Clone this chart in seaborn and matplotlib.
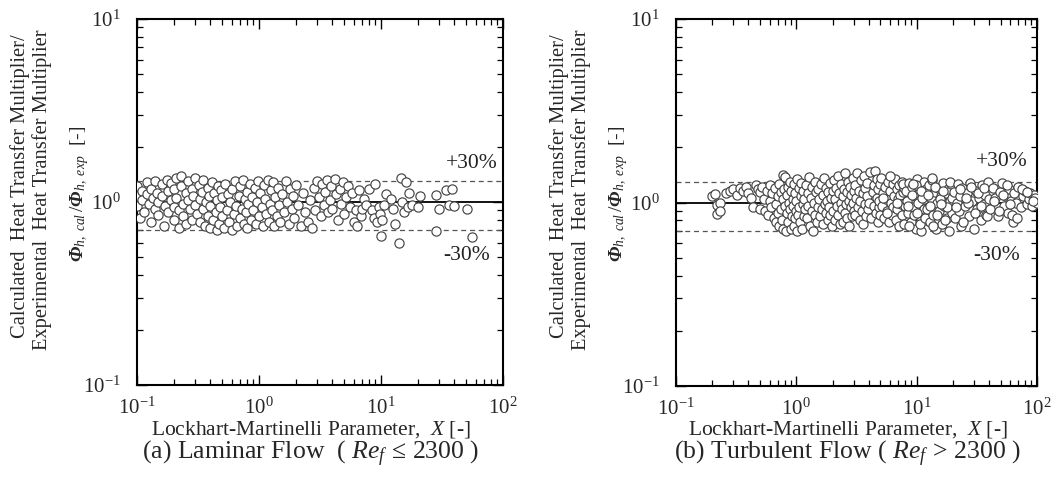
import numpy as np
import pandas as pd
import matplotlib
matplotlib.use("Agg")
import matplotlib.pyplot as plt
import seaborn as sns
from matplotlib.ticker import LogLocator, NullFormatter

# ---------------- data ----------------
lam_x = [
    0.10, 0.10, 0.10, 0.105, 0.11, 0.11, 0.115, 0.12, 0.12, 0.125, 0.13, 0.13, 0.135, 0.14, 0.14,
    0.145, 0.15, 0.15, 0.16, 0.16, 0.165, 0.17, 0.175, 0.18, 0.18, 0.19, 0.19, 0.20, 0.20, 0.20,
    0.21, 0.21, 0.22, 0.22, 0.23, 0.23, 0.24, 0.24, 0.25, 0.25, 0.26, 0.26, 0.27, 0.28, 0.28, 0.29,
    0.30, 0.30, 0.31, 0.32, 0.33, 0.33, 0.34, 0.35, 0.35, 0.36, 0.37, 0.38, 0.38, 0.39, 0.40, 0.40,
    0.41, 0.42, 0.43, 0.44, 0.45, 0.45, 0.46, 0.47, 0.48, 0.49, 0.50, 0.50,
    0.52, 0.53, 0.55, 0.56, 0.57, 0.58, 0.60, 0.60, 0.62, 0.63, 0.65, 0.66, 0.68, 0.70, 0.70, 0.72,
    0.74, 0.75, 0.77, 0.78, 0.80, 0.80, 0.82, 0.84, 0.86, 0.88, 0.90, 0.92, 0.94, 0.96, 0.98, 1.00,
    1.02, 1.05, 1.08, 1.10, 1.12, 1.15, 1.18, 1.20, 1.22, 1.25, 1.28, 1.30, 1.33, 1.36, 1.40, 1.43,
    1.46, 1.50, 1.55, 1.60, 1.65, 1.70, 1.75, 1.80, 1.85, 1.90, 1.95, 2.00, 2.10, 2.20, 2.30, 2.40,
    2.50, 2.60, 2.70, 2.80, 2.90, 3.00,
    3.1, 3.2, 3.3, 3.4, 3.5, 3.6, 3.7, 3.8, 3.9, 4.0, 4.2, 4.3, 4.4, 4.6, 4.7, 4.9, 5.0, 5.2, 5.4,
    5.6, 5.8, 6.0, 6.2,
    6.4, 6.6, 6.8, 7.0, 7.3, 7.6, 8.0, 8.4, 8.8, 9.0, 9.3, 9.6, 9.8, 10.0, 10.2, 10.5, 11, 12, 12.5,
    13, 14, 14.5, 15, 15.5, 16, 16.5, 17, 18, 20, 21, 28, 28, 30, 34, 36, 38, 40, 51, 56,
]
lam_y = [
    1.22, 1.08, 0.95, 0.82, 1.15, 1.02, 0.88, 1.28, 1.10, 0.98, 1.18, 0.78, 1.05, 1.30, 0.92,
    1.12, 1.00, 0.85, 1.25, 1.08, 0.74, 0.95, 1.32, 1.15, 0.88, 1.02, 1.27, 0.80, 0.94, 1.18,
    1.36, 1.05, 0.72, 0.90, 1.22, 1.38, 0.98, 0.84, 1.12, 0.76, 1.30, 1.02, 0.92, 1.18, 0.80, 1.08,
    1.36, 0.96, 0.86, 1.24, 1.04, 0.78, 1.14, 0.92, 1.32, 0.74, 1.00, 0.84, 1.20, 1.08, 0.72, 0.95,
    1.28, 0.80, 1.12, 0.88, 1.02, 0.70, 1.22, 0.76, 0.94, 1.16, 0.84, 1.06,
    0.72, 1.26, 0.90, 1.10, 0.78, 1.00, 0.70, 1.18, 0.86, 1.30, 0.95, 0.74, 1.08, 0.82, 1.22, 0.92,
    1.32, 0.76, 1.04, 0.88, 1.14, 0.72, 0.98, 1.26, 0.80, 1.06, 0.90, 1.20, 0.76, 1.00, 1.30, 0.84,
    1.12, 0.94, 0.74, 1.24, 1.04, 0.86, 1.32, 0.78, 0.98, 1.16, 0.90, 1.28, 0.74, 1.06, 0.84, 1.20,
    0.96, 0.78, 1.10, 0.88, 1.30, 1.00, 0.76, 1.18, 0.92, 1.08, 0.82, 1.24, 0.96, 0.74, 1.12, 0.88,
    0.78, 1.02, 0.72, 1.20, 0.90, 1.30,
    1.06, 0.84, 1.26, 0.96, 1.14, 1.32, 0.88, 1.02, 1.22, 0.92, 1.34, 1.10, 0.80, 1.18, 0.98, 1.28,
    0.86, 1.06, 1.22, 0.94, 1.12, 0.78, 0.90,
    0.74, 1.16, 0.84, 0.92, 1.04, 0.96, 1.18, 0.90, 0.82, 1.26, 0.78, 0.94, 0.86, 0.65, 0.80, 0.96,
    1.10, 1.04, 0.92, 0.76, 0.60, 1.35, 1.00, 0.88, 1.28, 0.94, 1.12, 0.96, 0.94, 1.08, 0.69, 1.09,
    0.92, 1.16, 0.96, 1.18, 0.95, 0.91, 0.64,
]

turb_x = [
    0.20, 0.21, 0.22, 0.22, 0.23, 0.23, 0.26, 0.28, 0.30, 0.32, 0.34, 0.36, 0.38, 0.40, 0.42, 0.44,
    0.46, 0.48, 0.50, 0.50,
    0.52, 0.54, 0.55, 0.57, 0.58, 0.60, 0.60, 0.62, 0.63, 0.65, 0.66, 0.68, 0.68, 0.70, 0.70, 0.72,
    0.72, 0.74, 0.75, 0.76, 0.77, 0.78, 0.78, 0.79, 0.80,
    0.81, 0.82, 0.83, 0.84, 0.85, 0.86, 0.87, 0.88, 0.89, 0.90, 0.91, 0.92, 0.93, 0.94, 0.95, 0.96,
    0.97, 0.98, 0.99, 1.00, 1.01, 1.02, 1.04, 1.05, 1.06, 1.08, 1.09, 1.10, 1.12, 1.13, 1.14, 1.15,
    1.16, 1.18, 1.20,
    1.22, 1.24, 1.26, 1.28, 1.30, 1.32, 1.34, 1.36, 1.38, 1.40, 1.42, 1.44, 1.46, 1.48, 1.50, 1.52,
    1.55, 1.58, 1.60, 1.62, 1.65, 1.68, 1.70, 1.72, 1.75, 1.78, 1.80, 1.82, 1.85, 1.88, 1.90, 1.92,
    1.95, 1.98, 2.00,
    2.02, 2.05, 2.08, 2.10, 2.13, 2.16, 2.20, 2.23, 2.26, 2.30, 2.33, 2.36, 2.40, 2.43, 2.46, 2.50,
    2.53, 2.56, 2.60, 2.63, 2.66, 2.70, 2.73, 2.76, 2.80, 2.83, 2.86, 2.90, 2.93, 2.96, 3.00, 3.00,
    3.05, 3.10, 3.15, 3.20, 3.25, 3.30, 3.35, 3.40, 3.45, 3.50, 3.55, 3.60, 3.65, 3.70, 3.75, 3.80,
    3.85, 3.90, 3.95, 4.00, 4.10, 4.20, 4.30, 4.40, 4.45, 4.50, 4.60, 4.65, 4.70, 4.75, 4.80, 4.85,
    4.90, 4.95, 5.00,
    5.1, 5.2, 5.3, 5.4, 5.5, 5.6, 5.7, 5.8, 5.9, 6.0, 6.1, 6.2, 6.3, 6.4, 6.5, 6.6, 6.7, 6.8, 6.9,
    7.0, 7.1, 7.2, 7.3, 7.4, 7.5, 7.6, 7.7, 7.8, 7.9, 8.0, 5.25, 5.65, 6.05, 6.85, 7.65,
    8.2, 8.4, 8.6, 8.8, 9.0, 9.2, 9.4, 9.6, 9.8, 10.0, 10.2, 10.4, 10.6, 10.8, 11.0, 11.2, 11.4,
    11.6, 11.8, 12.0, 8.3, 8.7, 9.1, 9.5, 9.9, 10.3, 10.7, 11.1, 11.5, 11.9, 8.5, 9.3, 10.1, 10.9,
    11.7,
    12.3, 12.6, 12.9, 13.2, 13.5, 13.8, 14.1, 14.4, 14.7, 15.0, 15.4, 15.8, 16.2, 16.6, 17.0, 17.4,
    17.8, 18.2, 18.6, 19.0, 19.4, 19.8, 12.5, 13.0, 13.6, 14.2, 14.8, 15.6, 16.4, 17.2, 18.0, 18.8,
    19.6, 13.3, 16.0,
    20.5, 21, 21.5, 22, 22.5, 23, 23.5, 24, 25, 26, 27, 28, 29, 30, 31, 32, 33, 34, 35, 36, 37, 38,
    39, 40, 21.2, 22.8, 24.5, 26.5, 28.5, 30.5, 32.5, 34.5, 36.5, 38.5, 25.5,
    41, 43, 45, 47, 49, 51, 53, 55, 57, 59, 61, 63, 65, 67, 70, 73, 76, 79, 82, 85, 88, 91, 94, 97,
    100, 44, 48, 52, 56, 62, 68, 75, 83, 92, 60,
]
turb_y = [
    1.08, 1.11, 0.97, 0.87, 0.99, 0.90, 1.12, 1.15, 1.18, 1.10, 1.20, 1.16, 1.22, 1.12, 1.06, 0.95,
    1.24, 1.18, 0.92, 1.14,
    1.22, 1.05, 0.90, 1.16, 0.86, 1.24, 1.02, 0.94, 1.12, 0.82, 1.20, 0.98, 0.78, 1.08, 0.88, 1.26,
    0.74, 1.14, 0.92, 0.80, 1.04, 1.42, 0.72, 1.18, 0.96,
    1.38, 0.70, 0.88, 1.10, 1.22, 0.78, 1.00, 0.92, 1.30, 0.72, 1.16, 0.84, 1.05, 0.96, 1.26, 0.74,
    0.82, 1.12, 0.90, 1.02, 1.34, 0.70, 0.86, 1.20, 0.94, 0.78, 1.08, 1.28, 0.72, 0.98, 1.16, 0.84,
    1.04, 0.92, 1.24,
    0.82, 1.12, 0.96, 1.38, 0.74, 1.06, 0.90, 1.22, 0.70, 1.00, 1.30, 0.86, 1.14, 0.78, 0.94, 1.18,
    1.04, 0.84, 1.26, 0.92, 1.10, 0.76, 1.36, 0.98, 0.88, 1.20, 1.02, 0.80, 1.14, 0.94, 1.28, 0.86,
    1.06, 0.74, 1.16,
    0.90, 1.32, 1.04, 0.80, 1.20, 0.96, 1.40, 0.86, 1.12, 0.76, 1.00, 1.26, 0.92, 1.08, 0.78, 1.18,
    0.88, 1.44, 0.98, 1.14, 0.82, 1.30, 1.02, 0.74, 1.22, 0.94, 1.10, 0.84, 1.36, 1.00, 0.90, 1.16,
    1.24, 0.86, 1.06, 1.44, 0.94, 1.16, 0.80, 1.02, 1.32, 0.90, 1.12, 0.76, 1.40, 0.98, 1.20, 0.84,
    1.08, 1.28, 0.92, 1.00, 1.46, 0.82, 1.14, 0.96, 1.24, 1.49, 0.88, 1.06, 1.34, 0.78, 1.18, 0.94,
    1.02, 1.26, 0.86,
    1.36, 0.96, 1.12, 0.82, 1.22, 1.04, 0.90, 1.30, 0.78, 1.16, 1.00, 0.86, 1.26, 0.94, 1.08, 1.34,
    0.80, 1.18, 0.92, 1.04, 1.24, 0.74, 1.10, 0.98, 1.30, 0.86, 1.14, 0.76, 1.20, 0.96, 1.06, 0.88,
    1.40, 1.00, 1.26,
    1.16, 0.88, 1.28, 1.00, 0.78, 1.22, 0.94, 1.08, 0.72, 1.34, 0.84, 1.12, 0.98, 0.70, 1.20, 0.90,
    1.04, 1.30, 0.80, 1.14, 1.02, 0.74, 1.10, 0.86, 1.24, 1.00, 0.76, 1.06, 0.92, 1.18, 0.96, 1.26,
    0.88, 1.16, 0.82,
    0.92, 1.24, 0.78, 1.06, 1.32, 0.86, 1.14, 0.72, 1.00, 1.20, 0.90, 1.08, 0.76, 1.28, 0.96, 1.12,
    0.82, 1.18, 0.70, 1.02, 1.26, 0.88, 1.10, 0.96, 0.74, 1.22, 0.86, 1.04, 1.16, 0.80, 0.94, 1.30,
    1.06, 1.36, 0.98,
    1.14, 0.82, 1.00, 1.26, 0.90, 1.08, 0.74, 1.20, 0.96, 1.12, 0.84, 1.28, 1.02, 0.72, 1.16, 0.92,
    1.06, 0.80, 1.24, 0.98, 1.10, 0.86, 1.30, 1.04, 0.94, 1.18, 0.78, 1.00, 1.22, 0.88, 1.12, 0.96,
    1.20, 0.84, 1.06,
    0.92, 1.20, 1.06, 0.84, 1.14, 1.28, 0.96, 1.08, 0.88, 1.18, 1.02, 0.78, 1.12, 1.00, 1.22, 0.94,
    1.08, 1.16, 0.98, 1.04, 1.12, 0.96, 1.10, 1.06, 1.00, 1.02, 0.90, 1.10, 1.24, 0.86, 0.82, 1.18,
    1.14, 1.02, 0.98,
]
assert len(lam_x) == len(lam_y), (len(lam_x), len(lam_y))
assert len(turb_x) == len(turb_y), (len(turb_x), len(turb_y))

ref_line = 1.0
band_hi = 1.3
band_lo = 0.7
band_labels = ["+30%", "-30%"]
x_label = "Lockhart-Martinelli Parameter,  $X$ [-]"
y_label_1 = "Calculated  Heat Transfer Multiplier/"
y_label_2 = "Experimental  Heat Transfer Multiplier"
y_label_3 = r"$\mathbf{\Phi}_{h,\ cal}\,/\mathbf{\Phi}_{h,\ exp}$  [-]"
captions = [r"(a) Laminar Flow  ( $Re_{f}\,\leq\,2300$ )",
            r"(b) Turbulent Flow ( $Re_{f}\,>\,2300$ )"]

# ---------------- style ----------------
sns.set_theme(style="ticks")
plt.rcParams["font.family"] = ["Liberation Serif", "DejaVu Serif"]
plt.rcParams["mathtext.fontset"] = "custom"
plt.rcParams["mathtext.rm"] = "Liberation Serif"
plt.rcParams["mathtext.it"] = "Liberation Serif:italic"
plt.rcParams["mathtext.bf"] = "Liberation Serif:bold:italic"
plt.rcParams["axes.unicode_minus"] = False

W, H = 1059, 479
fig = plt.figure(figsize=(W / 100, H / 100), dpi=100)


def fx(px):
    return px / W


def fy(py):
    return 1 - py / H


# (data, left, right, top, bottom, +30% label pos, -30% label pos)
panels = [
    (pd.DataFrame({"X": lam_x, "ratio": lam_y}), 137, 503, 19, 385, (472, 163), (467, 256)),
    (pd.DataFrame({"X": turb_x, "ratio": turb_y}), 676, 1037, 19, 386, (1002, 161), (997, 256)),
]

for i, (df, l, r, t, b, p_hi, p_lo) in enumerate(panels):
    ax = fig.add_axes([fx(l), fy(b), (r - l) / W, (b - t) / H])
    ax.set_xscale("log")
    ax.set_yscale("log")
    ax.set_xlim(0.1, 100)
    ax.set_ylim(0.1, 10)
    sns.scatterplot(data=df, x="X", y="ratio", ax=ax, marker="o", s=44,
                    facecolor="white", edgecolor="#444444", linewidth=0.85,
                    legend=False, zorder=3)
    ax.axhline(ref_line, color="black", lw=1.3, zorder=2)
    ax.axhline(band_hi, color="#555555", lw=0.9, ls=(0, (4, 3)), zorder=2)
    ax.axhline(band_lo, color="#555555", lw=0.9, ls=(0, (4, 3)), zorder=2)
    ax.set_xlabel("")
    ax.set_ylabel("")
    ax.xaxis.set_major_locator(LogLocator(base=10, numticks=10))
    ax.yaxis.set_major_locator(LogLocator(base=10, numticks=10))
    ax.xaxis.set_minor_locator(LogLocator(base=10, subs=np.arange(2, 10), numticks=20))
    ax.yaxis.set_minor_locator(LogLocator(base=10, subs=np.arange(2, 10), numticks=20))
    ax.xaxis.set_minor_formatter(NullFormatter())
    ax.yaxis.set_minor_formatter(NullFormatter())
    ax.tick_params(which="both", direction="in", top=True, right=True, color="black")
    ax.tick_params(which="major", length=7, width=1.0, labelsize=15, pad=9)
    ax.tick_params(which="minor", length=4, width=0.9)
    ax.tick_params(axis="y", which="major", pad=12)
    for s in ax.spines.values():
        s.set_linewidth(1.5)
        s.set_color("black")

    # band labels
    fig.text(fx(p_hi[0]), fy(p_hi[1]), band_labels[0], ha="center", va="center",
             fontsize=15.5, color="#222222")
    fig.text(fx(p_lo[0]), fy(p_lo[1]), band_labels[1], ha="center", va="center",
             fontsize=15.5, color="#222222")

    # axis titles (multi-line, rotated)
    fig.text(fx(l - 117), fy(186), y_label_1, rotation=90, ha="center", va="center", fontsize=14.8)
    fig.text(fx(l - 95), fy(190), y_label_2, rotation=90, ha="center", va="center", fontsize=14.8)
    fig.text(fx(l - 57), fy(194), y_label_3, rotation=90, ha="center", va="center", fontsize=14)
    cx = (l + r) / 2 - 9
    fig.text(fx(cx), fy(435), x_label, ha="center", va="baseline", fontsize=15.5)
    fig.text(fx(cx), fy(459), captions[i], ha="center", va="baseline", fontsize=18.5)

fig.savefig("out.png", dpi=100)
